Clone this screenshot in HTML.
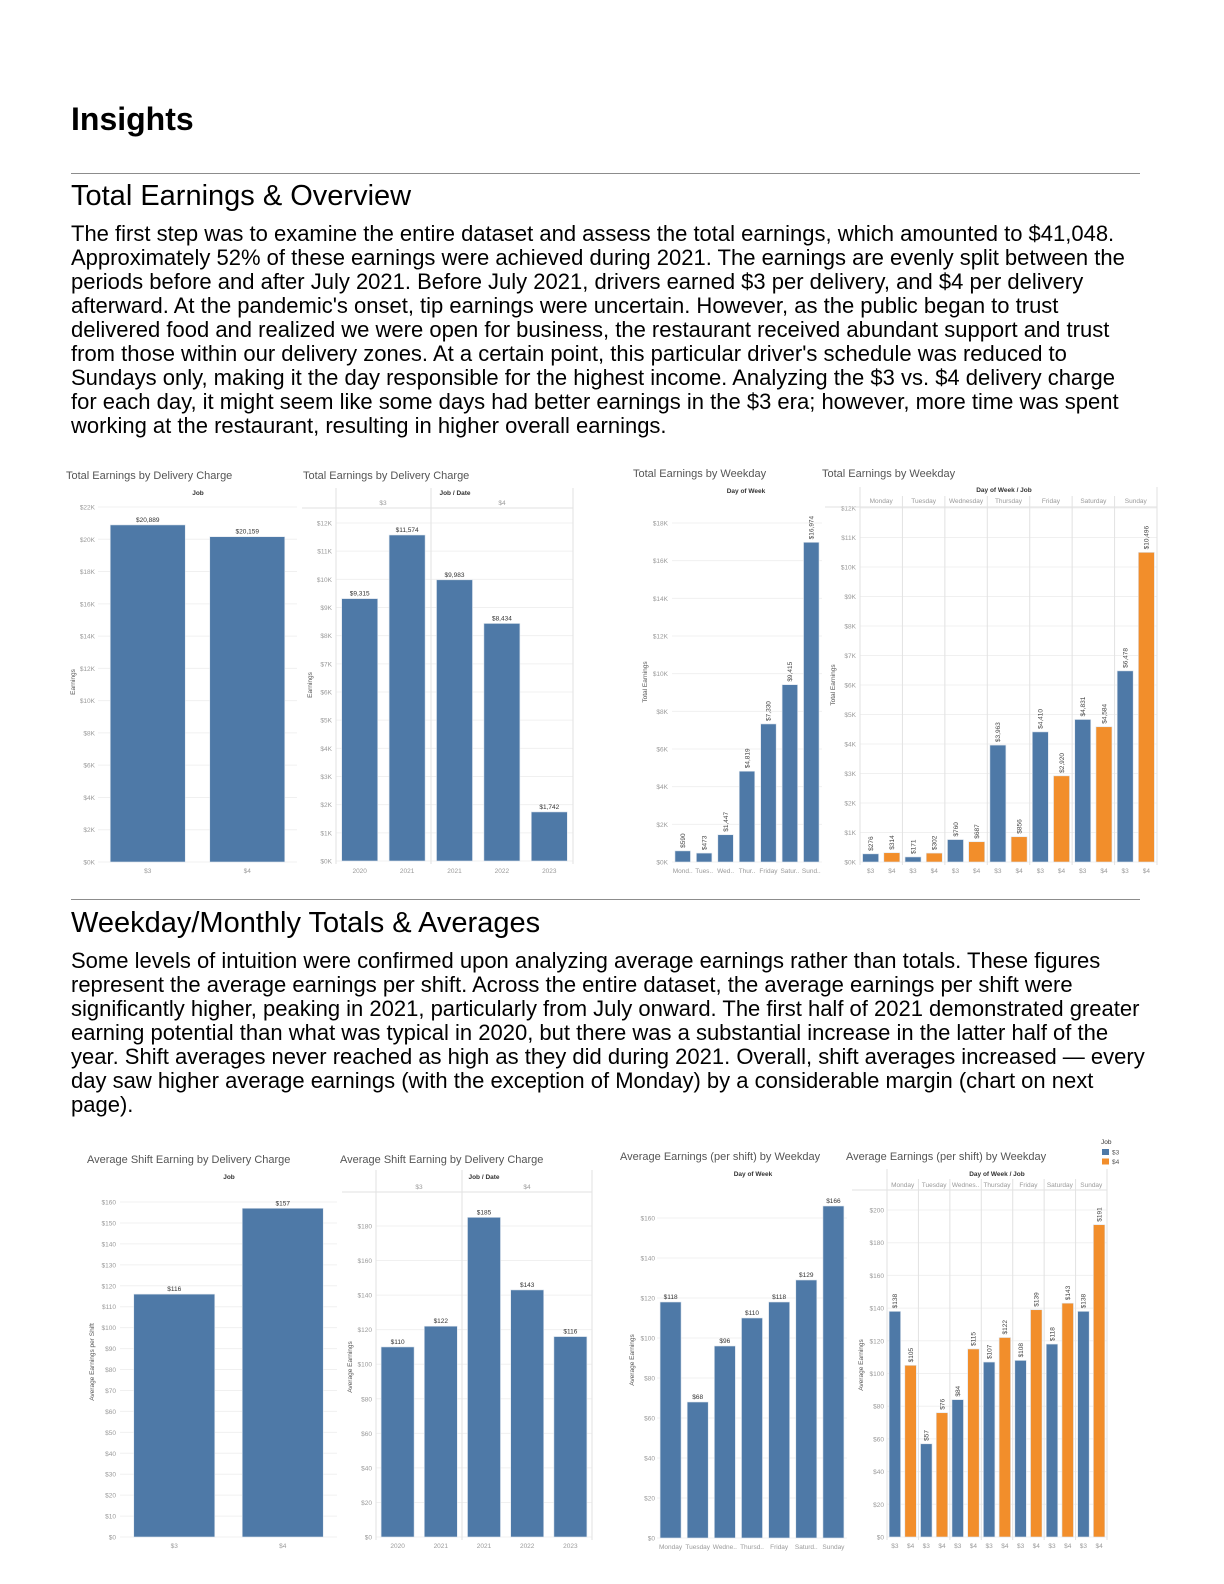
<!DOCTYPE html>
<html><head><meta charset="utf-8">
<style>
html,body{margin:0;padding:0;background:#fff;}
body{width:1224px;height:1584px;position:relative;overflow:hidden;font-family:"Liberation Sans",Arial,sans-serif;color:#000;}
.h1{position:absolute;left:71px;top:101px;font-size:32px;font-weight:bold;line-height:36px;}
.h2{position:absolute;left:71px;font-size:29px;line-height:32px;}
.hr{position:absolute;left:71px;width:1069px;height:1px;background:#8c8c8c;}
.ln{position:absolute;left:71px;font-size:22px;line-height:24px;white-space:nowrap;}
svg{position:absolute;left:0;top:0;}
</style></head>
<body>
<div class="h1">Insights</div>
<div class="hr" style="top:173px"></div>
<div class="h2" style="top:180px">Total Earnings &amp; Overview</div>
<div>
<div class="ln" style="top:222px">The first step was to examine the entire dataset and assess the total earnings, which amounted to $41,048.</div>
<div class="ln" style="top:246px">Approximately 52% of these earnings were achieved during 2021. The earnings are evenly split between the</div>
<div class="ln" style="top:270px">periods before and after July 2021. Before July 2021, drivers earned $3 per delivery, and $4 per delivery</div>
<div class="ln" style="top:294px">afterward. At the pandemic's onset, tip earnings were uncertain. However, as the public began to trust</div>
<div class="ln" style="top:318px">delivered food and realized we were open for business, the restaurant received abundant support and trust</div>
<div class="ln" style="top:342px">from those within our delivery zones. At a certain point, this particular driver's schedule was reduced to</div>
<div class="ln" style="top:366px">Sundays only, making it the day responsible for the highest income. Analyzing the $3 vs. $4 delivery charge</div>
<div class="ln" style="top:390px">for each day, it might seem like some days had better earnings in the $3 era; however, more time was spent</div>
<div class="ln" style="top:414px">working at the restaurant, resulting in higher overall earnings.</div>
</div>
<div class="hr" style="top:899px"></div>
<div class="h2" style="top:907px">Weekday/Monthly Totals &amp; Averages</div>
<div>
<div class="ln" style="top:949px">Some levels of intuition were confirmed upon analyzing average earnings rather than totals. These figures</div>
<div class="ln" style="top:973px">represent the average earnings per shift. Across the entire dataset, the average earnings per shift were</div>
<div class="ln" style="top:997px">significantly higher, peaking in 2021, particularly from July onward. The first half of 2021 demonstrated greater</div>
<div class="ln" style="top:1021px">earning potential than what was typical in 2020, but there was a substantial increase in the latter half of the</div>
<div class="ln" style="top:1045px">year. Shift averages never reached as high as they did during 2021. Overall, shift averages increased — every</div>
<div class="ln" style="top:1069px">day saw higher average earnings (with the exception of Monday) by a considerable margin (chart on next</div>
<div class="ln" style="top:1093px">page).</div>
</div>
<svg id="charts" width="1224" height="1584" xmlns="http://www.w3.org/2000/svg"></svg>
<script>
// ---- Chart data ----
const aCats = ["$3","$4"];
const aVals = [20889,20159];
const aTicks = [0,2000,4000,6000,8000,10000,12000,14000,16000,18000,20000,22000];

const bCats = ["2020","2021","2021","2022","2023"];
const bGroups = ["$3","$4"];
const bVals = [9315,11574,9983,8434,1742];
const bTicks = [0,1000,2000,3000,4000,5000,6000,7000,8000,9000,10000,11000,12000];

const cCats = ["Mond..","Tues..","Wed..","Thur..","Friday","Satur..","Sund.."];
const cVals = [590,473,1447,4819,7330,9415,16974];
const cTicks = [0,2000,4000,6000,8000,10000,12000,14000,16000,18000];

const dCats = ["Monday","Tuesday","Wednesday","Thursday","Friday","Saturday","Sunday"];
const dSeriesNames = ["$3","$4"];
const dVals3 = [276,171,760,3963,4410,4831,6478];
const dVals4 = [314,302,687,856,2920,4584,10496];
const dTicks = [0,1000,2000,3000,4000,5000,6000,7000,8000,9000,10000,11000,12000];

const eCats = ["$3","$4"];
const eVals = [116,157];
const eTicks = [0,10,20,30,40,50,60,70,80,90,100,110,120,130,140,150,160];

const fCats = ["2020","2021","2021","2022","2023"];
const fGroups = ["$3","$4"];
const fVals = [110,122,185,143,116];
const fTicks = [0,20,40,60,80,100,120,140,160,180];

const gCats = ["Monday","Tuesday","Wedne..","Thursd..","Friday","Saturd..","Sunday"];
const gVals = [118,68,96,110,118,129,166];
const gTicks = [0,20,40,60,80,100,120,140,160];

const hCats = ["Monday","Tuesday","Wednes..","Thursday","Friday","Saturday","Sunday"];
const hSeriesNames = ["$3","$4"];
const hVals3 = [138,57,84,107,108,118,138];
const hVals4 = [105,76,115,122,139,143,191];
const hTicks = [0,20,40,60,80,100,120,140,160,180,200];

// ---- Rendering ----
const NS = "http://www.w3.org/2000/svg";
const svg = document.getElementById('charts');
const COLORS = ["#4e79a7","#f28e2b"];
const FONT = '"Liberation Sans","DejaVu Sans",sans-serif';
function mk(tag, attrs, parent){
  const e = document.createElementNS(NS, tag);
  for (const k in attrs) e.setAttribute(k, attrs[k]);
  (parent||svg).appendChild(e);
  return e;
}
function txt(parent, x, y, s, size, fill, anchor, extra){
  const t = mk('text', Object.assign({x:x, y:y, 'font-size':size, fill:fill, 'text-anchor':anchor||'middle', 'font-family':FONT}, extra||{}), parent);
  t.textContent = s;
  return t;
}
function money(v){ return "$" + v.toLocaleString('en-US'); }
function kfmt(v){ return "$" + (v/1000) + "K"; }
function plain(v){ return "$" + v; }

function drawChart(c){
  const g = mk('g', {});
  
  
  const top = c.ticks[c.ticks.length-1];
  const sy = v => c.y0 - v/top*(c.y0 - c.yTop);
  const tt = txt(g, c.titleX, c.titleY, c.title, 11, "#555", 'start');
  
  
  const hd = txt(g, c.headX, c.headY, c.head, 6.5, "#333", 'middle', {'font-weight':'bold'});
  
  
  c.ticks.forEach(t => {
    const y = sy(t);
    const gl = mk('line', {x1:c.left, x2:c.right, y1:y, y2:y, stroke:"#f0f0f0", 'stroke-width':1}, g);
    
    
    const tl = txt(g, c.tickX, y+2.5, c.tfmt(t), 6.5, "#9a9a9a", 'end');
    
    
  });
  const at = txt(g, c.axX, c.axY, c.axTitle, 6.5, "#555", 'middle', {transform:'rotate(-90 '+c.axX+' '+c.axY+')'});
  
  
  (c.vlines||[]).forEach((x, k) => {
    const yt = (k === 0 || k === c.vlines.length-1 || !c.vTop2) ? c.vTop : c.vTop2;
    const l = mk('line', {x1:x, x2:x, y1:yt, y2:c.y0+3, stroke:"#e2e2e2", 'stroke-width':1}, g);
    
    
  });
  if (c.hline){
    const l = mk('line', {x1:c.hline[0], x2:c.hline[1], y1:c.hline[2], y2:c.hline[2], stroke:"#e2e2e2", 'stroke-width':1}, g);
    
    
  }
  const n = c.cats.length;
  const band = (c.right - c.left)/n;
  const ns = c.series.length;
  for (let i=0;i<n;i++){
    for (let s=0;s<ns;s++){
      const v = c.series[s][i];
      const sub = band/ns;
      const cx = c.left + i*band + (s+0.5)*sub;
      const y = sy(v);
      const r = mk('rect', {x:cx-c.barW/2, y:y, width:c.barW, height:c.y0-y, fill:COLORS[s], stroke:"#dfe6ee", 'stroke-width':0.6}, g);
      
      
      let vl;
      if (c.rot){
        vl = txt(g, cx+2.3, y-3, money(v), 6.5, "#444", 'start', {transform:'rotate(-90 '+(cx+2.3)+' '+(y-3)+')'});
      } else {
        vl = txt(g, cx, y-3, money(v), 6.5, "#333", 'middle');
      }
      
      
      if (ns>1){
        const sl = txt(g, cx, c.xlY, c.seriesNames[s], 6.5, "#9a9a9a", 'middle');
        
        
      }
    }
    const bc = c.left + (i+0.5)*band;
    if (ns>1){
      const dl = txt(g, bc, c.catY, c.cats[i], 6.5, "#9a9a9a", 'middle');
      
      
    } else {
      const xl = txt(g, bc, c.xlY, c.cats[i], 6.5, "#9a9a9a", 'middle');
      
      
    }
  }
  (c.groups||[]).forEach((gname, k) => {
    const gl = txt(g, c.groupX[k], c.groupY, gname, 6.5, "#9a9a9a", 'middle');
    
    
  });
}

function divs(x0, w, k){ const a=[]; for(let i=0;i<=k;i++) a.push(x0+i*w); return a; }

drawChart({name:'chart-total-by-charge', title:'Total Earnings by Delivery Charge', titleX:66, titleY:479,
  head:'Job', headX:198, headY:495, cats:aCats, series:[aVals], ticks:aTicks, tfmt:kfmt,
  left:98, right:297, y0:862, yTop:507, barW:75, tickX:95, xlY:873, axTitle:'Earnings', axX:75, axY:682});

drawChart({name:'chart-total-by-charge-year', title:'Total Earnings by Delivery Charge', titleX:303, titleY:479,
  head:'Job / Date', headX:455, headY:495, cats:bCats, series:[bVals], ticks:bTicks, tfmt:kfmt,
  groups:bGroups, groupX:[383,502], groupY:505,
  left:336, right:573, y0:861, yTop:523, barW:36, tickX:332, xlY:873, axTitle:'Earnings', axX:312, axY:685,
  vlines:[336,431,573], vTop:488, hline:[302,573,508]});

drawChart({name:'chart-total-by-weekday', title:'Total Earnings by Weekday', titleX:633, titleY:477,
  head:'Day of Week', headX:746, headY:493, cats:cCats, series:[cVals], ticks:cTicks, tfmt:kfmt, rot:true,
  left:672, right:822, y0:862, yTop:523, barW:15.5, tickX:668, xlY:873, axTitle:'Total Earnings', axX:647, axY:682});

drawChart({name:'chart-total-by-weekday-charge', title:'Total Earnings by Weekday', titleX:822, titleY:477,
  head:'Day of Week / Job', headX:1004, headY:492, cats:dCats, series:[dVals3,dVals4], seriesNames:dSeriesNames,
  ticks:dTicks, tfmt:kfmt, rot:true, catY:503,
  left:860, right:1157, y0:862, yTop:508, barW:16, tickX:856, xlY:873, axTitle:'Total Earnings', axX:835, axY:685,
  vlines:divs(860, 42.43, 7), vTop:487, vTop2:496, hline:[825,1157,507]});

drawChart({name:'chart-avg-by-charge', title:'Average Shift Earning by Delivery Charge', titleX:87, titleY:1163,
  head:'Job', headX:229, headY:1179, cats:eCats, series:[eVals], ticks:eTicks, tfmt:plain,
  left:120, right:337, y0:1537, yTop:1202, barW:81, tickX:116, xlY:1548, axTitle:'Average Earnings per Shift', axX:94, axY:1362});

drawChart({name:'chart-avg-by-charge-year', title:'Average Shift Earning by Delivery Charge', titleX:340, titleY:1163,
  head:'Job / Date', headX:484, headY:1179, cats:fCats, series:[fVals], ticks:fTicks, tfmt:plain,
  groups:fGroups, groupX:[419,527], groupY:1189,
  left:376, right:592, y0:1537, yTop:1226, barW:33, tickX:372, xlY:1548, axTitle:'Average Earnings', axX:352, axY:1367,
  vlines:[376,462,592], vTop:1170, hline:[342,592,1192]});

drawChart({name:'chart-avg-by-weekday', title:'Average Earnings (per shift) by Weekday', titleX:620, titleY:1160,
  head:'Day of Week', headX:753, headY:1176, cats:gCats, series:[gVals], ticks:gTicks, tfmt:plain,
  left:657, right:847, y0:1538, yTop:1218, barW:21, tickX:655, xlY:1549, axTitle:'Average Earnings', axX:634, axY:1360});

drawChart({name:'chart-avg-by-weekday-charge', title:'Average Earnings (per shift) by Weekday', titleX:846, titleY:1160,
  head:'Day of Week / Job', headX:997, headY:1176, cats:hCats, series:[hVals3,hVals4], seriesNames:hSeriesNames,
  ticks:hTicks, tfmt:plain, rot:true, catY:1187,
  left:887, right:1107, y0:1537, yTop:1210, barW:11.5, tickX:884, xlY:1548, axTitle:'Average Earnings', axX:863, axY:1365,
  vlines:divs(887, 31.43, 7), vTop:1169, vTop2:1179, hline:[852,1107,1190]});

const lg = mk('g', {});


const lt = txt(lg, 1101, 1144, 'Job', 6.5, "#333", 'start');


hSeriesNames.forEach((nm, i) => {
  const r = mk('rect', {x:1102, y:1149+i*9.5, width:7, height:6, fill:COLORS[i]}, lg);
  
  
  const t = txt(lg, 1112, 1154.5+i*9.5, nm, 6.5, "#555", 'start');
  
  
});
</script>
</body></html>
